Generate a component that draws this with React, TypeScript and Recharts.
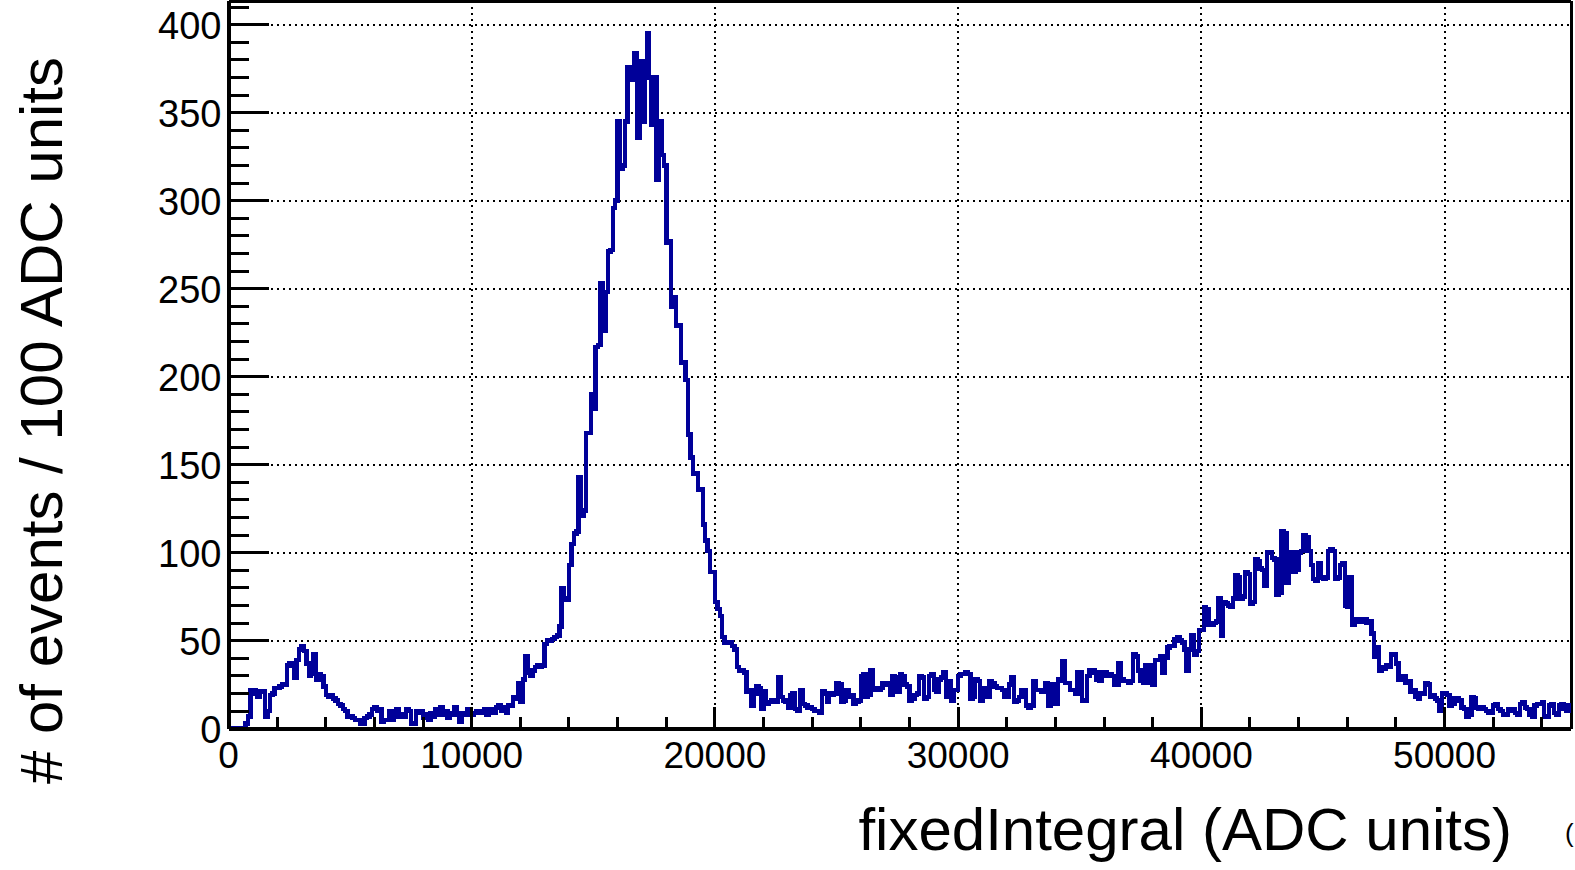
import { LineChart, Line, XAxis, YAxis, ReferenceLine } from 'recharts';

const FONT = '"Liberation Sans", Arial, Helvetica, sans-serif';
const LINE_COLOR = '#000099';

const BIN_WIDTH = 100;
const X_MAX = 55200;
const Y_MAX = 413.5;

// events per 100 ADC-unit bin (bins start at 0)
const counts = [
  0, 0, 0, 0, 0, 0, 0, 3, 7, 22,
  22, 20, 18, 21, 21, 7, 10, 19, 20, 23,
  23, 24, 25, 25, 36, 37, 36, 29, 39, 45,
  47, 44, 37, 30, 31, 42, 28, 31, 30, 24,
  19, 18, 19, 17, 16, 14, 13, 11, 10, 7,
  7, 6, 5, 5, 3, 3, 6, 7, 8, 11,
  12, 10, 11, 4, 5, 5, 10, 5, 10, 11,
  7, 8, 7, 11, 10, 3, 3, 10, 9, 10,
  6, 8, 5, 9, 7, 11, 8, 12, 8, 10,
  6, 9, 8, 12, 9, 4, 9, 8, 11, 9,
  8, 9, 10, 10, 9, 11, 8, 10, 11, 9,
  12, 13, 10, 12, 9, 13, 13, 18, 17, 26,
  15, 28, 41, 32, 30, 33, 35, 36, 35, 36,
  48, 50, 50, 51, 52, 53, 58, 80, 74, 73,
  93, 105, 111, 112, 143, 121, 124, 168, 168, 190,
  182, 217, 218, 253, 226, 248, 271, 272, 296, 300,
  345, 318, 320, 345, 376, 376, 369, 384, 336, 379,
  345, 379, 395, 370, 343, 370, 312, 345, 326, 320,
  276, 277, 240, 245, 229, 229, 208, 208, 198, 167,
  154, 145, 145, 136, 136, 116, 107, 101, 89, 89,
  72, 68, 64, 52, 49, 49, 49, 47, 45, 35,
  33, 33, 32, 21, 22, 13, 20, 24, 23, 11,
  21, 14, 15, 16, 15, 15, 29, 18, 16, 15,
  12, 19, 20, 11, 10, 22, 14, 13, 12, 12,
  11, 10, 10, 9, 21, 20, 15, 20, 19, 20,
  26, 25, 15, 16, 22, 18, 19, 14, 15, 16,
  30, 31, 18, 19, 33, 22, 23, 22, 23, 26,
  25, 26, 19, 30, 29, 21, 31, 30, 25, 24,
  16, 17, 19, 20, 30, 29, 17, 18, 30, 31,
  22, 21, 28, 29, 32, 18, 27, 16, 22, 22,
  30, 31, 31, 32, 31, 17, 18, 28, 27, 16,
  23, 22, 18, 27, 26, 24, 23, 23, 22, 18,
  18, 25, 29, 15, 16, 18, 22, 22, 13, 12,
  13, 27, 22, 22, 21, 21, 26, 13, 25, 25,
  14, 28, 27, 38, 26, 26, 22, 22, 20, 32,
  32, 16, 16, 30, 33, 33, 32, 28, 27, 32,
  32, 30, 31, 30, 25, 25, 37, 28, 27, 27,
  26, 27, 42, 41, 33, 27, 26, 36, 36, 26,
  25, 39, 39, 41, 32, 40, 46, 47, 47, 51,
  52, 50, 49, 45, 33, 45, 53, 42, 44, 56,
  56, 69, 68, 59, 59, 60, 61, 74, 53, 72,
  71, 70, 69, 74, 87, 86, 74, 75, 89, 88,
  71, 72, 96, 95, 91, 90, 81, 100, 100, 97,
  96, 76, 77, 112, 111, 83, 100, 100, 89, 90,
  100, 101, 110, 109, 101, 93, 85, 84, 94, 86,
  85, 86, 101, 102, 101, 85, 86, 93, 94, 70,
  69, 86, 59, 62, 62, 61, 61, 62, 60, 61,
  54, 41, 46, 33, 35, 34, 36, 35, 42, 42,
  37, 28, 29, 30, 26, 27, 21, 22, 18, 17,
  20, 20, 26, 25, 18, 19, 17, 16, 10, 20,
  20, 19, 13, 14, 17, 17, 16, 12, 11, 7,
  8, 18, 17, 12, 11, 12, 11, 10, 9, 9,
  13, 14, 11, 10, 8, 8, 11, 10, 11, 9,
  8, 14, 15, 12, 11, 8, 7, 13, 14, 14,
  15, 7, 7, 13, 14, 9, 8, 13, 14, 11,
  10, 13,
];

const xMajor = [0, 10000, 20000, 30000, 40000, 50000];
const yMajor = [0, 50, 100, 150, 200, 250, 300, 350, 400];
const X_MINOR_STEP = 2000;
const Y_MINOR_STEP = 10;

const xTicks = Array.from({ length: Math.floor(X_MAX / X_MINOR_STEP) + 1 }, (_, i) => i * X_MINOR_STEP);
const yTicks = Array.from({ length: Math.floor(Y_MAX / Y_MINOR_STEP) + 1 }, (_, i) => i * Y_MINOR_STEP);

// step histogram: one point per bin low edge, plus the closing edge
const data = counts.map((c, i) => ({ x: i * BIN_WIDTH, y: c }));
data.push({ x: counts.length * BIN_WIDTH, y: counts[counts.length - 1] });

function XTick({ x, y, payload }: any) {
  const major = xMajor.includes(payload.value);
  return (
    <g>
      <line x1={x} x2={x} y1={y} y2={y - (major ? 22 : 12)} stroke="#000" strokeWidth={3} shapeRendering="crispEdges" />
      {major && (
        <text x={x} y={y + 39.5} textAnchor="middle" fontSize={37} fontFamily={FONT} fill="#000">
          {payload.value}
        </text>
      )}
    </g>
  );
}

function YTick({ x, y, payload }: any) {
  const major = yMajor.includes(payload.value);
  return (
    <g>
      <line x1={x} x2={x + (major ? 40 : 20)} y1={y} y2={y} stroke="#000" strokeWidth={3} shapeRendering="crispEdges" />
      {major && (
        <text x={x - 7} y={y + 14} textAnchor="end" fontSize={38} fontFamily={FONT} fill="#000">
          {payload.value}
        </text>
      )}
    </g>
  );
}

export default function App() {
  return (
    <div style={{ position: 'absolute', left: 0, top: 0, width: 1575, height: 870, background: '#fff' }}>
      <style>{`
        .recharts-reference-line-line { shape-rendering: crispEdges; }
        .recharts-cartesian-axis-line { shape-rendering: crispEdges; }
        .recharts-line-curve { shape-rendering: crispEdges; }
      `}</style>
      <LineChart
        width={1575}
        height={870}
        data={data}
        margin={{ top: 1, right: 4, bottom: 81.4, left: 168.5 }}
      >
        <XAxis
          type="number"
          dataKey="x"
          domain={[0, X_MAX]}
          ticks={xTicks}
          interval={0}
          allowDataOverflow
          height={60}
          tickSize={0}
          tickMargin={0}
          tickLine={false}
          axisLine={{ stroke: '#000', strokeWidth: 4 }}
          tick={(p: any) => <XTick {...p} />}
        />
        <YAxis
          type="number"
          domain={[0, Y_MAX]}
          ticks={yTicks}
          interval={0}
          allowDataOverflow
          width={60}
          tickSize={0}
          tickMargin={0}
          tickLine={false}
          axisLine={{ stroke: '#000', strokeWidth: 4 }}
          tick={(p: any) => <YTick {...p} />}
        />
        {yMajor.filter(v => v > 0).map(v => (
          <ReferenceLine key={`gy${v}`} y={v} stroke="#000" strokeWidth={2} strokeDasharray="2 4" />
        ))}
        {xMajor.filter(v => v > 0).map(v => (
          <ReferenceLine key={`gx${v}`} x={v} stroke="#000" strokeWidth={2} strokeDasharray="2 4" />
        ))}
        <ReferenceLine y={Y_MAX} stroke="#000" strokeWidth={3} />
        <ReferenceLine x={X_MAX} stroke="#000" strokeWidth={3} />
        <Line
          type="stepAfter"
          dataKey="y"
          stroke={LINE_COLOR}
          strokeWidth={4.5}
          dot={false}
          activeDot={false}
          isAnimationActive={false}
        />
      </LineChart>
      <svg
        width={1575}
        height={870}
        style={{ position: 'absolute', left: 0, top: 0, pointerEvents: 'none' }}
      >
        <text
          x={1512}
          y={850}
          textAnchor="end"
          fontSize={60}
          fontFamily={FONT}
          fill="#000"
        >
          fixedIntegral (ADC units)
        </text>
        <text
          transform="translate(62,57) rotate(-90)"
          textAnchor="end"
          fontSize={60}
          fontFamily={FONT}
          fill="#000"
        >
          # of events / 100 ADC units
        </text>
        <text x={1565} y={842} fontSize={26} fontFamily={FONT} fill="#000">(</text>
      </svg>
    </div>
  );
}
